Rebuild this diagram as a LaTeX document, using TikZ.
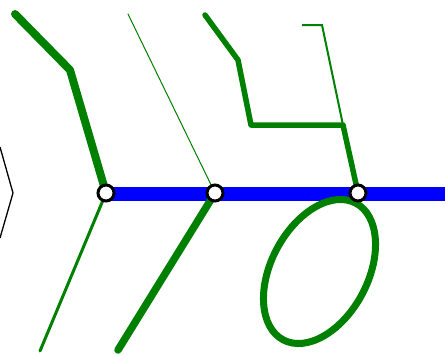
\documentclass[tikz,border=0pt]{standalone}
\definecolor{lgreen}{HTML}{008000}
\definecolor{lblue}{HTML}{0000FF}
\pgfdeclarelayer{background}
\pgfsetlayers{background,main}
\begin{document}
\begin{tikzpicture}[x=1pt,y=-1pt,
  gline/.style={draw=lgreen, line cap=round, line join=round},
  junction/.style={circle, draw=black, fill=white, line width=3pt, minimum size=16pt, inner sep=0pt}]
\useasboundingbox (0,0) rectangle (445,354);
% junction nodes
\node[junction] (j1) at (106,193) {};
\node[junction] (j2) at (215,193) {};
\node[junction] (j3) at (358,193) {};
\coordinate (bend) at (445,194);
\coordinate (a0) at (0,147); \coordinate (a1) at (13,193); \coordinate (a2) at (0,238);
\coordinate (b0) at (15,14); \coordinate (b1) at (70,70);
\coordinate (c1) at (40,351);
\coordinate (d0) at (128,14);
\coordinate (e1) at (118,350);
\coordinate (f0) at (205,15); \coordinate (f1) at (238,60); \coordinate (f2) at (251,125); \coordinate (f3) at (343,125);
\coordinate (g0) at (302,25); \coordinate (g1) at (322,25);
\coordinate (oc) at (319.5,271.5);
\begin{pgfonlayer}{background}
% blue spine
\draw[lblue, line width=14pt] (j1.center |- bend) -- (bend);
% black chevron
\draw[black, line width=1.3pt] (a0) -- (a1) -- (a2);
% green branches
\draw[gline, line width=8pt] (b0) -- (b1) -- (j1.center);
\draw[gline, line width=3pt] (j1.center) -- (c1);
\draw[gline, line width=1pt] (d0) -- (j2.center);
\draw[gline, line width=7.5pt] (j2.center) -- (e1);
\draw[gline, line width=5.5pt] (f0) -- (f1) -- (f2) -- (f3) -- (j3.center);
\draw[draw=lgreen, line width=2pt] (g0) -- (g1) -- (f3);
\draw[draw=lgreen, line width=7pt, rotate around={62:(oc)}] (oc) ellipse [x radius=77.4pt, y radius=48.3pt];
\end{pgfonlayer}
\end{tikzpicture}
\end{document}
